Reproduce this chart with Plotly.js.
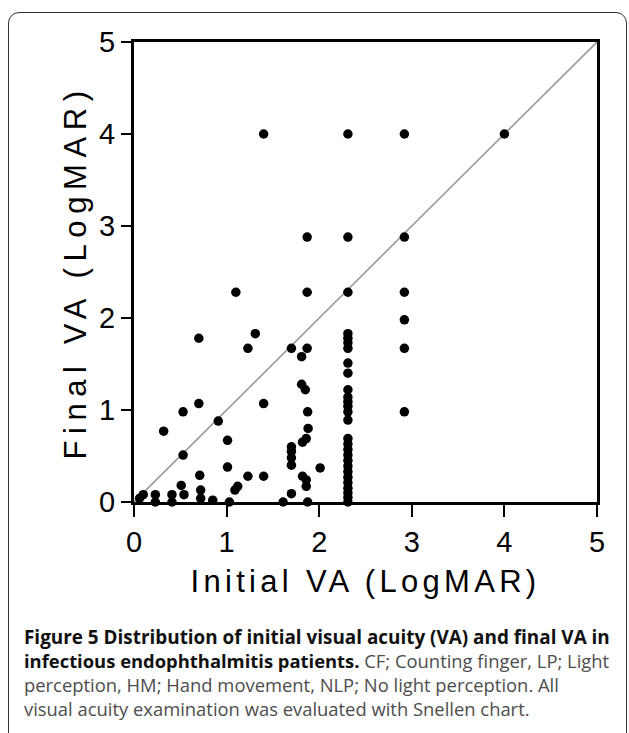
<!DOCTYPE html>
<html>
<head>
<meta charset="utf-8">
<script src="https://cdn.plot.ly/plotly-3.0.1.min.js"></script>
<style>
  html, body { margin: 0; padding: 0; background: #fff; }
  #wrap { position: relative; width: 629px; height: 733px; overflow: hidden; }
  #chart { position: absolute; left: 0; top: 0; width: 629px; height: 733px; }
  #frame { position: absolute; left: 8px; top: 12px; width: 617px; height: 760px;
           border: 1.5px solid #333; border-radius: 11px; pointer-events: none; }
</style>
</head>
<body>
<div id="wrap">
  <div id="chart"></div>
  <div id="frame"></div>
</div>
<script>
// Initial VA (LogMAR) and final VA (LogMAR), one entry per patient
const initialVA = [
  1.40, 2.31, 2.92, 4.00,
  1.87, 2.31, 2.92,
  1.10, 1.87, 2.31, 2.92,
  2.92,
  0.70, 1.31, 1.23, 1.70, 1.87, 1.81, 2.92,
  2.31, 2.31, 2.31, 2.31, 2.31, 2.31, 2.31, 2.31, 2.31, 2.31, 2.31, 2.31,
  2.31, 2.31, 2.31, 2.31, 2.31, 2.31, 2.31, 2.31, 2.31, 2.31, 2.31, 2.31, 2.31,
  0.70, 1.40, 0.53, 2.92, 0.91, 0.32, 1.01, 0.53, 1.01,
  1.81, 1.85, 1.875, 1.88, 1.86, 1.82, 1.70, 1.70, 1.70, 1.70, 1.82, 1.86, 1.86, 1.70, 1.61, 1.875,
  2.01, 1.40, 1.23, 1.12, 1.09, 0.71, 0.72, 0.51,
  0.10, 0.06, 0.23, 0.23, 0.41, 0.41, 0.54, 0.72, 0.85, 1.03
];
const finalVA = [
  4.00, 4.00, 4.00, 4.00,
  2.88, 2.88, 2.88,
  2.28, 2.28, 2.28, 2.28,
  1.98,
  1.78, 1.83, 1.67, 1.67, 1.67, 1.58, 1.67,
  1.83, 1.78, 1.73, 1.67, 1.51, 1.40, 1.22, 1.14, 1.09, 1.04, 0.98, 0.89,
  0.69, 0.63, 0.57, 0.51, 0.45, 0.39, 0.33, 0.27, 0.21, 0.15, 0.10, 0.05, 0.00,
  1.07, 1.07, 0.98, 0.98, 0.88, 0.77, 0.67, 0.51, 0.38,
  1.28, 1.22, 0.98, 0.80, 0.69, 0.65, 0.60, 0.55, 0.48, 0.40, 0.28, 0.24, 0.17, 0.09, 0.00, 0.00,
  0.37, 0.28, 0.28, 0.17, 0.13, 0.29, 0.13, 0.18,
  0.08, 0.04, 0.08, 0.00, 0.08, 0.00, 0.08, 0.04, 0.02, 0.00
];
// line of identity (no change)
const identityX = [0, 5];
const identityY = [0, 5];
const axisTicks = [0, 1, 2, 3, 4, 5];

const xTitle = "Initial VA (LogMAR)";
const yTitle = "Final VA (LogMAR)";
const captionLines = [
  "<b>Figure 5 Distribution of initial visual acuity (VA) and final VA in</b>",
  "<b>infectious endophthalmitis patients.</b><span style='color:#4d4d4d'> CF; Counting finger, LP; Light</span>",
  "<span style='color:#4d4d4d'>perception, HM; Hand movement, NLP; No light perception. All</span>",
  "<span style='color:#4d4d4d'>visual acuity examination was evaluated with Snellen chart.</span>"
];

const traces = [
  {
    x: identityX, y: identityY, type: 'scatter', mode: 'lines',
    line: { color: '#9a9a9a', width: 1.6 }, hoverinfo: 'skip', cliponaxis: false
  },
  {
    x: initialVA, y: finalVA, type: 'scatter', mode: 'markers',
    marker: { color: '#000', size: 9.5 }, cliponaxis: false
  }
];

const tickFont = { family: '"Liberation Sans", Arial, sans-serif', size: 29, color: '#000' };
const titleFont = { family: '"Liberation Sans", Arial, sans-serif', size: 31, color: '#000' };

const captionY = [637, 660, 684, 708];
const captionSize = [18.9, 18.4, 18.4, 18.4];
const annotations = captionLines.map((t, i) => ({
  text: t, xref: 'paper', yref: 'paper',
  x: (22 - 134) / 463, y: (502 - captionY[i]) / 460,
  xanchor: 'left', yanchor: 'middle', showarrow: false, align: 'left',
  font: { family: '"Open Sans", sans-serif', size: captionSize[i], color: '#111' }
}));

const layout = {
  width: 629, height: 733,
  margin: { l: 134, r: 32, t: 42, b: 231 },
  paper_bgcolor: 'rgba(0,0,0,0)', plot_bgcolor: '#fff',
  showlegend: false,
  xaxis: {
    range: [0, 5], tickvals: axisTicks,
    showline: true, mirror: true, linecolor: '#000', linewidth: 3,
    ticks: 'outside', ticklen: 12, tickwidth: 2, tickcolor: '#000',
    showgrid: false, zeroline: false, tickfont: tickFont,
    title: { text: xTitle, font: titleFont, standoff: 14 }
  },
  yaxis: {
    range: [0, 5], tickvals: axisTicks,
    showline: true, mirror: true, linecolor: '#000', linewidth: 3,
    ticks: 'outside', ticklen: 10, tickwidth: 2, tickcolor: '#000',
    showgrid: false, zeroline: false, tickfont: tickFont,
    title: { text: yTitle, font: titleFont, standoff: 4 }
  },
  annotations: annotations
};

Plotly.newPlot('chart', traces, layout, { displayModeBar: false, staticPlot: true }).then(() => {
  document.querySelectorAll('.xtitle').forEach(el => el.style.letterSpacing = '4.3px');
  document.querySelectorAll('.ytitle').forEach(el => el.style.letterSpacing = '6.6px');
});
</script>
</body>
</html>
